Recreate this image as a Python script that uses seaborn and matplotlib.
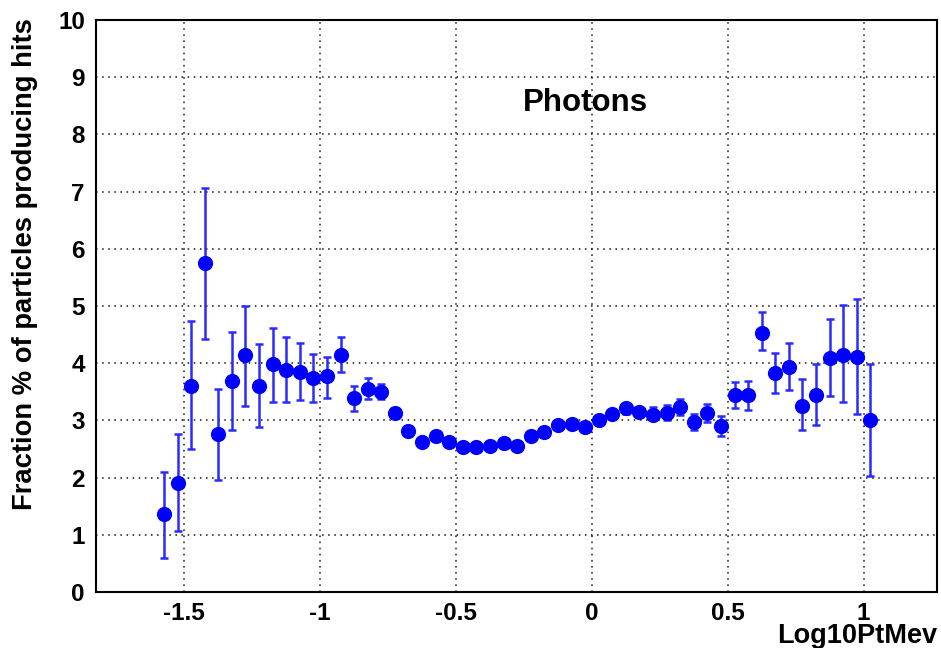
import matplotlib
matplotlib.use("Agg")
import matplotlib.pyplot as plt
import seaborn as sns
import pandas as pd
import numpy as np
from matplotlib.ticker import MultipleLocator

# ---- data ----
log10pt = [-1.575, -1.525, -1.475, -1.425, -1.375, -1.325, -1.275, -1.225, -1.175, -1.125,
           -1.075, -1.025, -0.975, -0.925, -0.875, -0.825, -0.775, -0.725, -0.675, -0.625,
           -0.575, -0.525, -0.475, -0.425, -0.375, -0.325, -0.275, -0.225, -0.175, -0.125,
           -0.075, -0.025, 0.025, 0.075, 0.125, 0.175, 0.225, 0.275, 0.325, 0.375,
           0.425, 0.475, 0.525, 0.575, 0.625, 0.675, 0.725, 0.775, 0.825, 0.875,
           0.925, 0.975, 1.025]
fraction = [1.36, 1.91, 3.61, 5.76, 2.76, 3.69, 4.14, 3.61, 3.98, 3.88,
            3.85, 3.74, 3.77, 4.14, 3.40, 3.55, 3.50, 3.13, 2.82, 2.63,
            2.72, 2.63, 2.53, 2.53, 2.55, 2.60, 2.55, 2.72, 2.80, 2.92,
            2.94, 2.89, 3.01, 3.11, 3.22, 3.14, 3.10, 3.13, 3.24, 2.98,
            3.13, 2.90, 3.45, 3.45, 4.53, 3.82, 3.93, 3.26, 3.45, 4.09,
            4.14, 4.11, 3.01]
err_low = [0.77, 0.84, 1.11, 1.33, 0.81, 0.85, 0.88, 0.72, 0.66, 0.56,
           0.50, 0.42, 0.37, 0.29, 0.23, 0.18, 0.12, 0.08, 0.07, 0.06,
           0.06, 0.05, 0.05, 0.05, 0.05, 0.05, 0.05, 0.06, 0.06, 0.06,
           0.06, 0.06, 0.06, 0.07, 0.11, 0.07, 0.09, 0.13, 0.14, 0.14,
           0.15, 0.18, 0.23, 0.26, 0.30, 0.34, 0.40, 0.42, 0.53, 0.66,
           0.82, 1.00, 0.98]
err_high = [0.74, 0.85, 1.12, 1.30, 0.79, 0.85, 0.86, 0.73, 0.64, 0.58,
            0.51, 0.42, 0.34, 0.32, 0.21, 0.19, 0.14, 0.08, 0.07, 0.06,
            0.06, 0.05, 0.05, 0.05, 0.05, 0.05, 0.05, 0.06, 0.06, 0.06,
            0.06, 0.06, 0.06, 0.07, 0.09, 0.07, 0.14, 0.14, 0.13, 0.14,
            0.16, 0.18, 0.22, 0.24, 0.36, 0.35, 0.43, 0.46, 0.54, 0.69,
            0.87, 1.01, 0.98]

x_ticks = [-1.5, -1.0, -0.5, 0.0, 0.5, 1.0]
x_ticklabels = ["-1.5", "-1", "-0.5", "0", "0.5", "1"]
y_ticks = list(range(0, 11))

df = pd.DataFrame({"Log10PtMev": log10pt, "fraction": fraction})

sns.set_style("white")
plt.rcParams["font.family"] = ["Liberation Sans", "DejaVu Sans"]
plt.rcParams["font.weight"] = "bold"
plt.rcParams["text.color"] = "black"
plt.rcParams["xtick.color"] = "black"
plt.rcParams["ytick.color"] = "black"
plt.rcParams["xtick.labelcolor"] = "black"
plt.rcParams["ytick.labelcolor"] = "black"

W, H = 941, 648
fig = plt.figure(figsize=(W / 100, H / 100), dpi=100)
ax = fig.add_axes([96 / W, 1 - 592 / H, (937 - 96) / W, (592 - 20) / H])

blue = "#0000ff"
ax.errorbar(df["Log10PtMev"], df["fraction"], yerr=[err_low, err_high],
            fmt="none", ecolor="#2a2aff", elinewidth=1.8, capsize=3.0, capthick=1.8,
            zorder=3)
sns.scatterplot(data=df, x="Log10PtMev", y="fraction", ax=ax, color=blue,
                s=120, marker="o", edgecolor=blue, linewidth=0, zorder=4)

ax.set_xlim(-1.825, 1.27)
ax.set_ylim(0, 10)
ax.set_xticks(x_ticks)
ax.set_xticklabels(x_ticklabels)
ax.set_yticks(y_ticks)
ax.xaxis.set_minor_locator(MultipleLocator(0.1))
ax.yaxis.set_minor_locator(MultipleLocator(0.2))
ax.grid(True, which="major", color="#111111", linestyle=(0, (1, 3)), linewidth=1.1)
ax.set_axisbelow(True)

ax.tick_params(axis="both", which="both", direction="in", color="black",
               labelcolor="black", width=1.2, top=False, right=False)
ax.tick_params(axis="x", which="major", length=12, pad=7)
ax.tick_params(axis="x", which="minor", length=7)
ax.tick_params(axis="y", which="major", length=18, pad=8)
ax.tick_params(axis="y", which="minor", length=9)
for lab in ax.get_xticklabels() + ax.get_yticklabels():
    lab.set_fontsize(17.5)
    lab.set_fontweight("bold")

for sp in ax.spines.values():
    sp.set_visible(True)
    sp.set_color("black")
    sp.set_linewidth(1.5)

ax.set_xlabel("")
ax.set_ylabel("")
fig.text(937 / W, 1 - 643 / H, "Log10PtMev", ha="right", va="baseline",
         fontsize=19.5, fontweight="bold", color="black")
fig.text(25 / W, 1 - 18 / H, "Fraction % of particles producing hits",
         rotation=90, ha="center", va="top", fontsize=19.7, fontweight="bold",
         color="black")
fig.text(585 / W, 1 - 111 / H, "Photons", ha="center", va="baseline",
         fontsize=22.5, fontweight="bold", color="black")

fig.savefig("out.png", dpi=100, facecolor="white")
